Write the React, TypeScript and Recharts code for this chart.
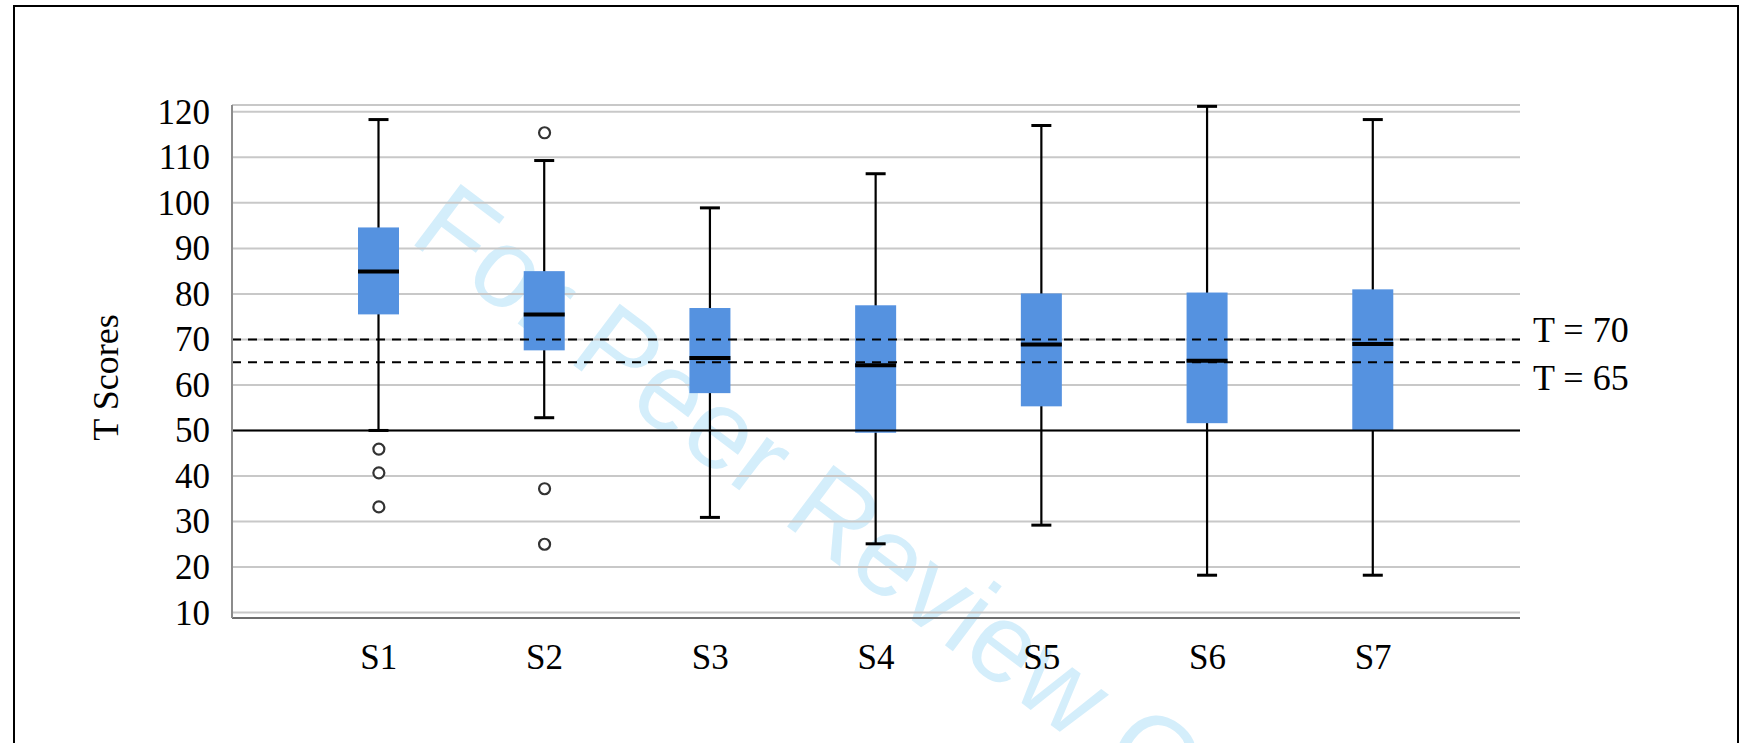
import React from 'react'
import { ComposedChart, Bar, Line, XAxis, YAxis, CartesianGrid, ReferenceLine } from 'recharts'

// T score distributions per scale
const scales = ['S1', 'S2', 'S3', 'S4', 'S5', 'S6', 'S7']
const whiskerLow = [50, 52.8, 30.9, 25.1, 29.2, 18.2, 18.2]
const quartile1 = [75.5, 67.6, 58.2, 49.5, 55.3, 51.6, 50]
const medians = [84.9, 75.5, 65.9, 64.3, 68.9, 65.3, 69]
const quartile3 = [94.6, 85, 76.9, 77.5, 80.1, 80.3, 81]
const whiskerHigh = [118.3, 109.3, 98.9, 106.4, 117, 121.2, 118.3]
const outliers = [[45.9, 40.7, 33.2], [115.4, 37.2, 25], [], [], [], [], []]

const yTicks = [10, 20, 30, 40, 50, 60, 70, 80, 90, 100, 110, 120]
const cutoffs = [
  { value: 70, label: 'T = 70', dy: 2.5 },
  { value: 65, label: 'T = 65', dy: 28 },
]
const baseline = 50

const data = scales.map((name, i) => ({
  name,
  range: [whiskerLow[i], whiskerHigh[i]],
  q1: quartile1[i],
  med: medians[i],
  q3: quartile3[i],
  o0: outliers[i][0] ?? null,
  o1: outliers[i][1] ?? null,
  o2: outliers[i][2] ?? null,
}))

const FONT = "'Liberation Serif', 'Times New Roman', serif"
const BOX_BLUE = '#5592e0'

function BoxShape(props: any) {
  const { x, y, width, height, payload } = props
  const [lo, hi] = payload.range
  const k = height / (hi - lo)
  const py = (v: number) => y + (hi - v) * k
  const cx = x + width / 2
  const cap = 10
  return (
    <g>
      <line x1={cx} x2={cx} y1={py(hi)} y2={py(lo)} stroke="#000" strokeWidth={2.2} />
      <line x1={cx - cap} x2={cx + cap} y1={py(hi)} y2={py(hi)} stroke="#000" strokeWidth={3} />
      <line x1={cx - cap} x2={cx + cap} y1={py(lo)} y2={py(lo)} stroke="#000" strokeWidth={3} />
      <rect x={x} y={py(payload.q3)} width={width} height={py(payload.q1) - py(payload.q3)} fill={BOX_BLUE} />
      <line x1={x} x2={x + width} y1={py(payload.med)} y2={py(payload.med)} stroke="#000" strokeWidth={4} />
    </g>
  )
}

function OutlierDot(props: any) {
  const { cx, cy, value } = props
  if (value == null || cy == null || isNaN(cy)) return null
  return <circle cx={cx} cy={cy} r={5.5} fill="#fff" stroke="#333" strokeWidth={2.2} />
}

function YTick({ x, y, payload }: any) {
  return (
    <text x={x} y={y} dy={12} textAnchor="end" fontFamily={FONT} fontSize={35} fill="#000">
      {payload.value}
    </text>
  )
}

function XTick({ x, y, payload }: any) {
  return (
    <text x={x} y={y} dy={51} textAnchor="middle" fontFamily={FONT} fontSize={35} fill="#000">
      {payload.value}
    </text>
  )
}

function CutoffLabel({ viewBox, text, dy }: any) {
  return (
    <text x={viewBox.x + viewBox.width + 13} y={viewBox.y + dy} fontFamily={FONT} fontSize={36} fill="#000">
      {text}
    </text>
  )
}

function YTitle({ viewBox }: any) {
  const tx = 118
  const ty = viewBox.y + viewBox.height / 2 + 16
  return (
    <text x={tx} y={ty} transform={`rotate(-90, ${tx}, ${ty})`} textAnchor="middle" fontFamily={FONT} fontSize={36} fill="#000">
      T Scores
    </text>
  )
}

export default function App() {
  return (
    <div style={{ position: 'absolute', left: 0, top: 0, width: 1743, height: 743, overflow: 'hidden', background: '#fff' }}>
      <div
        style={{
          position: 'absolute',
          left: 13,
          top: 5,
          width: 1726,
          height: 800,
          border: '2.5px solid #000',
          boxSizing: 'border-box',
        }}
      />
      <svg width={1743} height={743} style={{ position: 'absolute', left: 0, top: 0 }}>
        <text
          x={407}
          y={240}
          transform="rotate(37, 407, 240)"
          fontFamily="'Liberation Sans', Arial, sans-serif"
          fontSize={112}
          fill="#d4eefb"
        >
          For Peer Review Only
        </text>
      </svg>
      <div style={{ position: 'absolute', left: 0, top: 0 }}>
        <ComposedChart width={1743} height={743} data={data} margin={{ top: 105, right: 223, bottom: 0, left: 0 }}>
          <CartesianGrid vertical={false} stroke="#c8c8c8" strokeWidth={2} />
          <XAxis
            dataKey="name"
            height={125}
            padding={{ left: 64, right: 64 }}
            axisLine={{ stroke: '#6e6e6e', strokeWidth: 2 }}
            tickLine={false}
            tickSize={0}
            tickMargin={0}
            tick={<XTick />}
            interval={0}
          />
          <YAxis
            type="number"
            width={232}
            domain={[8.8, 121.5]}
            ticks={yTicks}
            interval={0}
            axisLine={{ stroke: '#8c8c8c', strokeWidth: 2 }}
            tickLine={false}
            tickSize={0}
            tickMargin={22}
            tick={<YTick />}
            label={<YTitle />}
          />
          <ReferenceLine y={baseline} stroke="#000" strokeWidth={2} />
          {cutoffs.map((c) => (
            <ReferenceLine
              key={c.value}
              y={c.value}
              stroke="#000"
              strokeWidth={2}
              strokeDasharray="9 7"
              label={<CutoffLabel text={c.label} dy={c.dy} />}
            />
          ))}
          <Bar dataKey="range" barSize={41} shape={<BoxShape />} isAnimationActive={false} />
          {['o0', 'o1', 'o2'].map((k) => (
            <Line
              key={k}
              dataKey={k}
              stroke="none"
              dot={<OutlierDot />}
              activeDot={false}
              legendType="none"
              isAnimationActive={false}
            />
          ))}
        </ComposedChart>
      </div>
    </div>
  )
}
